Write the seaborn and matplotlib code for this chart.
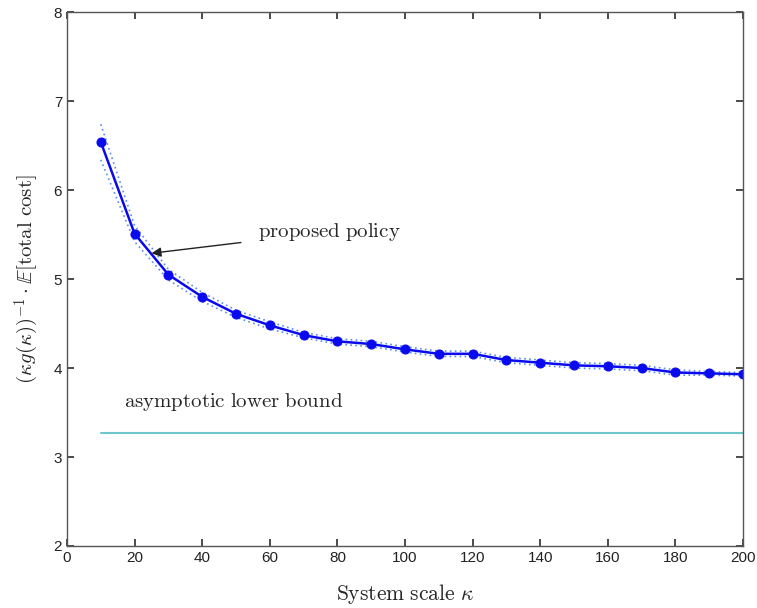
import numpy as np
import pandas as pd
import matplotlib
matplotlib.use("Agg")
import matplotlib.pyplot as plt
import seaborn as sns

# Data
kappa = [10, 20, 30, 40, 50, 60, 70, 80, 90, 100, 110, 120, 130, 140, 150, 160, 170, 180, 190, 200]
cost = [6.54, 5.51, 5.05, 4.80, 4.61, 4.48, 4.37, 4.30, 4.27, 4.21, 4.16, 4.16, 4.09, 4.06, 4.03, 4.02, 4.00, 3.95, 3.94, 3.93]
upper = [6.74, 5.60, 5.11, 4.85, 4.65, 4.52, 4.40, 4.33, 4.30, 4.24, 4.19, 4.19, 4.12, 4.09, 4.06, 4.05, 4.03, 3.98, 3.96, 3.95]
lower = [6.34, 5.42, 4.99, 4.75, 4.57, 4.44, 4.34, 4.27, 4.24, 4.18, 4.13, 4.13, 4.06, 4.03, 4.00, 3.99, 3.97, 3.92, 3.92, 3.91]
bound_x = [10, 200]
bound_y = [3.27, 3.27]

sns.set_theme(style="ticks")
plt.rcParams['font.family'] = ['Liberation Sans', 'DejaVu Sans']
plt.rcParams['mathtext.fontset'] = 'cm'

df = pd.DataFrame({"kappa": kappa, "cost": cost, "upper": upper, "lower": lower})
dfb = pd.DataFrame({"x": bound_x, "y": bound_y})

fig = plt.figure(figsize=(7.57, 6.08), dpi=100)
ax = fig.add_axes([0.0885, 0.102, 0.893, 0.878])

sns.lineplot(data=df, x="kappa", y="upper", ax=ax, color="#5a8ee8", linestyle=(0, (1, 2)), linewidth=1.2)
sns.lineplot(data=df, x="kappa", y="lower", ax=ax, color="#5a8ee8", linestyle=(0, (1, 2)), linewidth=1.2)
sns.lineplot(data=dfb, x="x", y="y", ax=ax, color="#6cc6cc", linewidth=1.5)
sns.lineplot(data=df, x="kappa", y="cost", ax=ax, color="#0a0aee", linewidth=1.8,
             marker="o", markersize=6.5, markeredgecolor="#0a0aee")

ax.set_xlim(0, 200)
ax.set_ylim(2, 8)
ax.set_xticks(np.arange(0, 201, 20))
ax.set_yticks(np.arange(2, 9, 1))
ax.tick_params(direction="in", top=True, right=True, labelsize=11, length=5, colors="#333333", labelcolor="#222222")
for s in ax.spines.values():
    s.set_visible(True)
    s.set_color("#555555")
    s.set_linewidth(1.0)

ax.set_xlabel(r"$\mathrm{System\ scale}\ \kappa$", fontsize=15.5, labelpad=12)
ax.set_ylabel(r"$(\kappa g(\kappa))^{-1}\cdot\mathbb{E}[\mathrm{total\ cost}]$", fontsize=15, labelpad=9)

ax.annotate(r"$\mathrm{proposed\ policy}$", xy=(25.0, 5.29), xytext=(56.5, 5.53),
            fontsize=15, va="center", ha="left",
            arrowprops=dict(arrowstyle="-|>", color="#222222", lw=1.0, shrinkA=10, shrinkB=0,
                            mutation_scale=14))
ax.text(17.0, 3.62, r"$\mathrm{asymptotic\ lower\ bound}$", fontsize=15, va="center", ha="left")

fig.savefig("out.png", dpi=100)
